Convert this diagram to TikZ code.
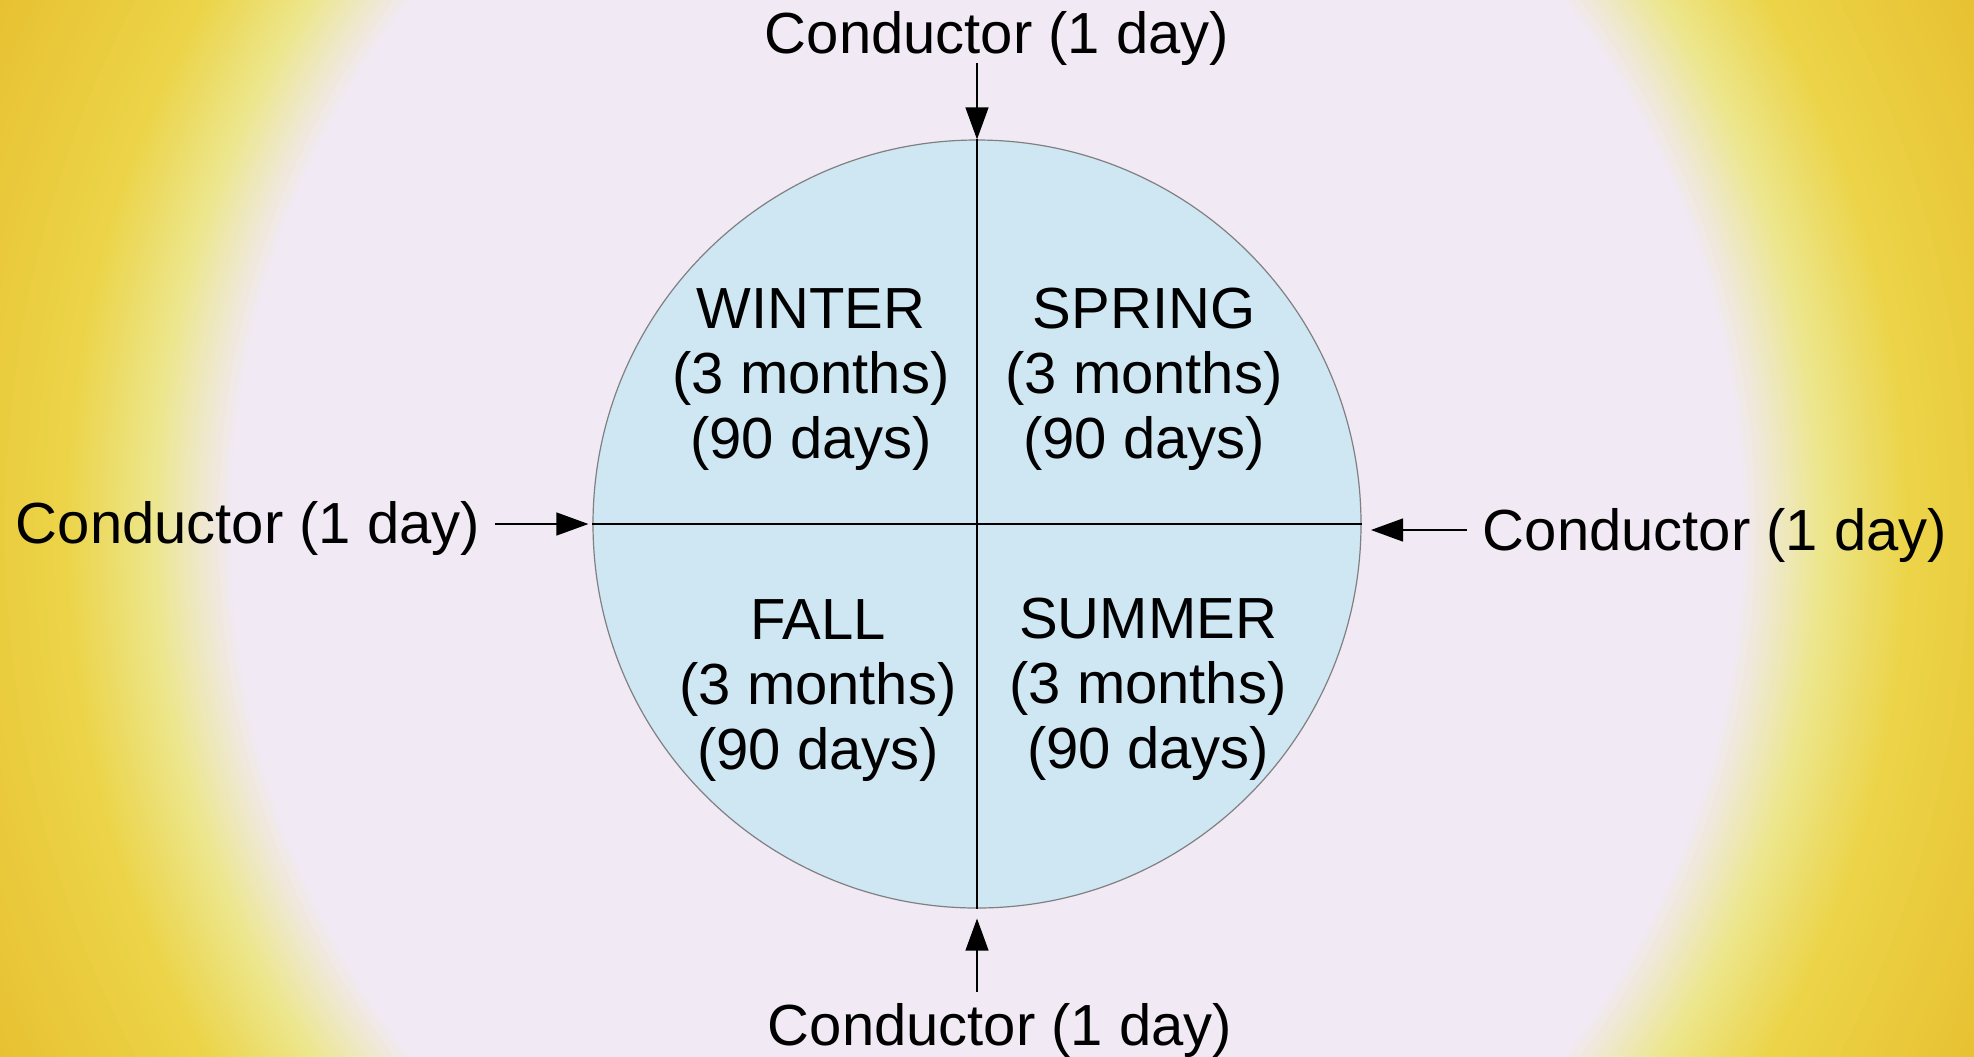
\documentclass[tikz,border=0pt]{standalone}
\usepackage{fontspec}
\setmainfont{Liberation Sans}
\usetikzlibrary{arrows.meta}
\definecolor{lav}{RGB}{241,233,244}
\definecolor{lightyel}{RGB}{236,230,140}
\definecolor{gold1}{RGB}{236,212,72}
\definecolor{gold3}{RGB}{231,192,48}
\definecolor{cfill}{RGB}{207,230,243}
\definecolor{cborder}{RGB}{128,128,128}
\tikzset{
  lbl/.style={inner sep=0pt, font=\fontsize{29}{32.5}\selectfont, text=black},
  season/.style={inner sep=0pt, font=\fontsize{29}{32.5}\selectfont, text=black},
  conn/.style={line width=0.65pt, -{Triangle[length=16pt,width=11.5pt]}},
  divider/.style={line width=0.65pt, black}
}
\begin{document}
\begin{tikzpicture}[x=0.5pt,y=-0.5pt]
\useasboundingbox (0,0) rectangle (1974,1056);
\begin{scope}
  \clip (0,0) rectangle (1974,1056);
  \fill[gold3] (0,0) rectangle (1974,1056);
  % outer gold ring: gold3 -> gold1
  \foreach \i in {0,...,20} {
    \pgfmathsetmacro\r{1.27-0.011*\i}
    \pgfmathtruncatemacro\p{5*\i}
    \pgfmathsetmacro\rx{440*\r}
    \pgfmathsetmacro\ry{475*\r}
    \fill[gold1!\p!gold3] (987,528) ellipse [x radius=\rx pt, y radius=\ry pt];
  }
  % gold1 -> light yellow
  \foreach \i in {0,...,20} {
    \pgfmathsetmacro\r{1.05-0.005*\i}
    \pgfmathtruncatemacro\p{5*\i}
    \pgfmathsetmacro\rx{440*\r}
    \pgfmathsetmacro\ry{475*\r}
    \fill[lightyel!\p!gold1] (987,528) ellipse [x radius=\rx pt, y radius=\ry pt];
  }
  % light yellow -> lavender
  \foreach \i in {0,...,20} {
    \pgfmathsetmacro\r{0.95-0.0045*\i}
    \pgfmathtruncatemacro\p{5*\i}
    \pgfmathsetmacro\rx{440*\r}
    \pgfmathsetmacro\ry{475*\r}
    \fill[lav!\p!lightyel] (987,528) ellipse [x radius=\rx pt, y radius=\ry pt];
  }
\end{scope}
% globe
\node[circle, minimum size=384pt, inner sep=0pt, fill=cfill, draw=cborder, line width=0.6pt] (globe) at (977,524) {};
\draw[divider] (globe.north) -- (globe.south);
\draw[divider] (globe.west) -- (globe.east);
% seasons
\node[season, anchor=base] (winter) at (811,328) {\begin{tabular}[t]{@{}c@{}}WINTER\\(3 months)\\(90 days)\end{tabular}};
\node[season, anchor=base] (spring) at (1144,328) {\begin{tabular}[t]{@{}c@{}}SPRING\\(3 months)\\(90 days)\end{tabular}};
\node[season, anchor=base] (fall) at (818,639) {\begin{tabular}[t]{@{}c@{}}FALL\\(3 months)\\(90 days)\end{tabular}};
\node[season, anchor=base] (summer) at (1148,638) {\begin{tabular}[t]{@{}c@{}}SUMMER\\(3 months)\\(90 days)\end{tabular}};
% conductor labels
\node[lbl, anchor=base] (ctop) at (997,53) {Conductor (1 day)};
\node[lbl, anchor=base] (cbot) at (1000,1045) {Conductor (1 day)};
\node[lbl, anchor=base] (cleft) at (248,543) {Conductor (1 day)};
\node[lbl, anchor=base] (cright) at (1715,550) {Conductor (1 day)};
% arrows
\coordinate (ttop) at (977,63);
\coordinate (tbot) at (977,992);
\coordinate (tleft) at (495,524);
\coordinate (tright) at (1467,530);
\coordinate (hright) at (1371,530);
\draw[conn] (ttop) -- (globe.north);
\draw[conn, shorten >=5pt] (tbot) -- (globe.south);
\draw[conn, shorten >=2pt] (tleft) -- (globe.west);
\draw[conn] (tright) -- (hright);
\end{tikzpicture}
\end{document}
